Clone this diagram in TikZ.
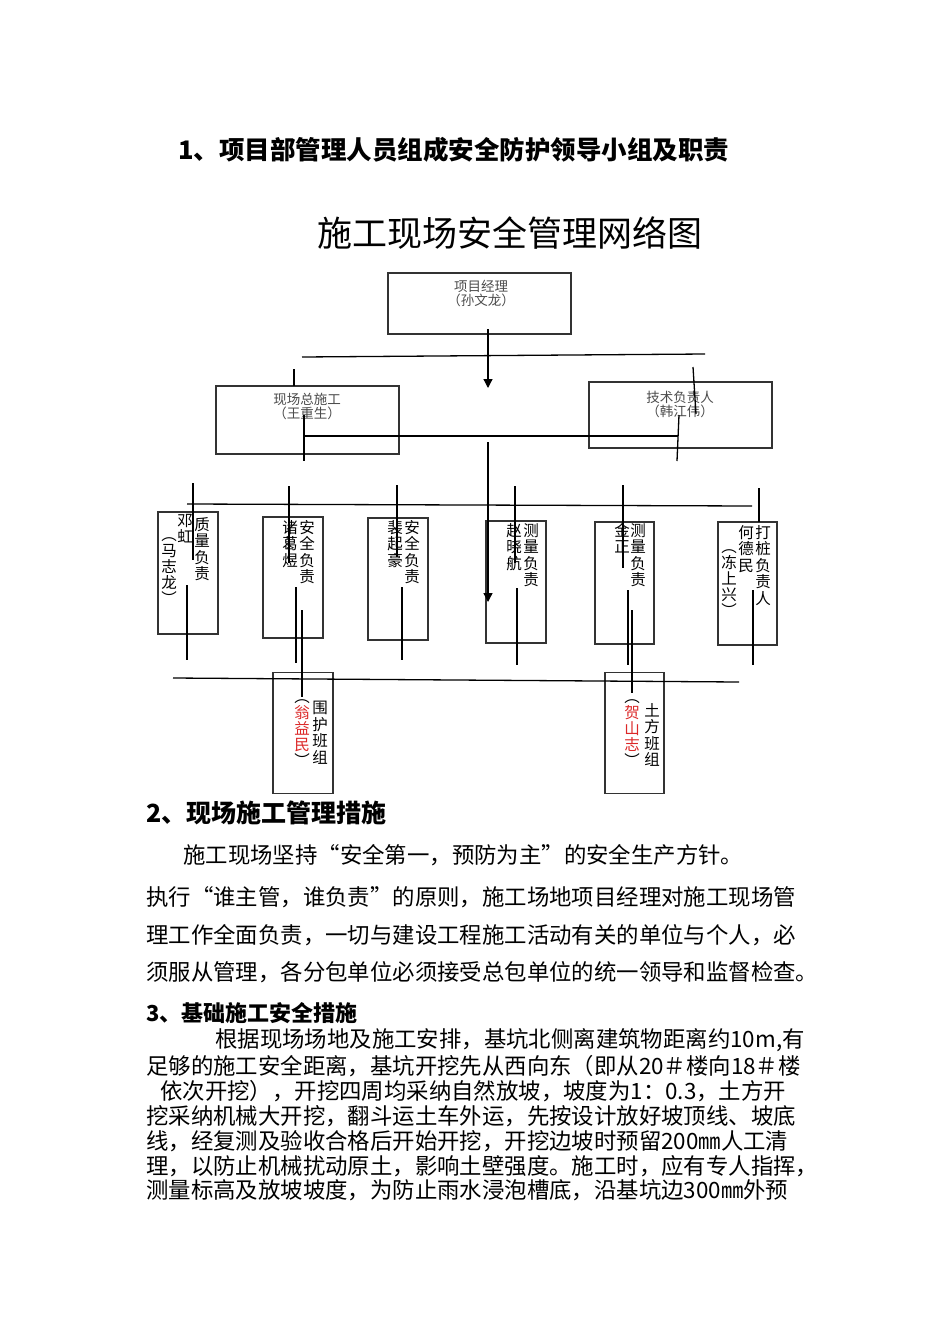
\documentclass[tikz,border=0pt]{standalone}
\usepackage{fontspec}
\setmainfont{Noto Sans CJK SC}
\usetikzlibrary{arrows.meta}
\definecolor{namered}{RGB}{220,40,40}

\begin{document}
\begin{tikzpicture}[
    x=1pt, y=-1pt,
    box/.style={rectangle, draw=black!80, line width=1.5pt, inner sep=0pt},
    tbox/.style={box, minimum width=183pt},
    vbox/.style={box, minimum width=60pt, minimum height=122pt},
    lbl/.style={align=center, inner sep=0pt, text=black!70, font=\fontsize{13.5}{13.5}\selectfont},
    vcol/.style={anchor=north, align=center, inner sep=0pt, font=\fontsize{15.5}{16.5}\selectfont},
    pcol/.style={vcol, font=\fontsize{15.5}{16}\selectfont},
    ln/.style={line width=1.3pt},
    arr/.style={ln, -{Triangle[width=9pt,length=9pt]}},
    txt/.style={anchor=west, inner sep=0pt},
    para/.style={txt, font=\fontsize{22.4}{22.4}\selectfont},
    parb/.style={txt, font=\fontsize{22.4}{22.4}\selectfont}
  ]
  \fill[white] (0,0) rectangle (950,1344);
  \useasboundingbox (0,0) rectangle (950,1344);

  \node[txt, font=\bfseries\fontsize{25.5}{25.5}\selectfont] (sec1) at (178,150) {1、项目部管理人员组成安全防护领导小组及职责};
  \node[inner sep=0pt, font=\fontsize{35}{35}\selectfont] (title) at (510,233) {施工现场安全管理网络图};

  \node[tbox, minimum height=61pt] (pm) at (479.5,303.5) {};
  \node[lbl] (pmt) at (481,293.5) {项目经理\\（孙文龙）};
  \node[tbox, minimum height=68pt] (zsg) at (307.5,420) {};
  \node[lbl] (zsgt) at (307,406.5) {现场总施工\\（王重生）};
  \node[tbox, minimum height=66pt] (jsf) at (680.5,415) {};
  \node[lbl] (jsft) at (680,404.5) {技术负责人\\（韩江伟）};

  \node[vbox] (zl) at (188,573) {};
  \node[vbox, minimum height=121pt] (aq) at (293,577.5) {};
  \node[vbox] (aqb) at (398,579) {};
  \node[vbox] (cl) at (516,582) {};
  \node[vbox, minimum width=59pt] (clb) at (624.5,583) {};
  \node[vbox, minimum width=59pt, minimum height=123pt] (dz) at (747.5,583.5) {};
  \node[vbox, minimum height=121pt] (wh) at (303,733) {};
  \node[vbox, minimum width=59pt, minimum height=121pt] (tf) at (634.5,733) {};

  \node[vcol] (zlt) at (202,517) {质\\量\\负\\责};
  \node[vcol] (zln) at (185,514) {邓\\虹};
  \node[pcol] (zlp) at (169,537) {︵\\马\\志\\龙\\︶};
  \node[vcol] (aqt) at (307,520) {安\\全\\负\\责};
  \node[vcol] (aqn) at (290,520) {诸\\葛\\煜};
  \node[vcol] (aqbt) at (412,520) {安\\全\\负\\责};
  \node[vcol] (aqbn) at (395,520) {裴\\起\\豪};
  \node[vcol] (clt) at (531,523) {测\\量\\负\\责};
  \node[vcol] (cln) at (514,523) {赵\\晓\\航};
  \node[vcol] (clbt) at (638,523) {测\\量\\负\\责};
  \node[vcol] (clbn) at (622,523) {金\\正};
  \node[vcol] (dzt) at (763,525) {打\\桩\\负\\责\\人};
  \node[vcol] (dzn) at (746,525) {何\\德\\民};
  \node[pcol] (dzp) at (729,549) {︵\\冻\\上\\兴\\︶};
  \node[vcol] (wht) at (320,701) {围\\护\\班\\组};
  \node[pcol] (whn) at (302,699) {︵\\\textcolor{namered}{翁}\\\textcolor{namered}{益}\\\textcolor{namered}{民}\\︶};
  \node[vcol] (tft) at (652,703) {土\\方\\班\\组};
  \node[pcol] (tfn) at (632,699) {︵\\\textcolor{namered}{贺}\\\textcolor{namered}{山}\\\textcolor{namered}{志}\\︶};

  \draw[ln] (302,357) -- (705,354);
  \draw[arr] (488,329) -- (488,388);
  \draw[ln] (294,369) -- (294,386);
  \draw[ln] (693,367) -- (696,414);
  \draw[ln] (304,415) -- (304,461);
  \draw[ln] (304,436) -- (678,436);
  \draw[ln] (679,415) -- (677,461);
  \draw[arr] (488,442) -- (488,602);

  \draw[ln] (187,504) -- (752,506);
  \draw[ln] (193,483) -- (193,560) (289,486) -- (289,563) (397,485) -- (397,557)
    (515,486) -- (515,563) (623,485) -- (623,568) (759,488) -- (759,522);
  \draw[ln] (187,585) -- (187,660) (296,587) -- (296,663) (402,587) -- (402,660)
    (517,588) -- (517,665) (628,590) -- (628,665) (753,590) -- (753,665);
  \draw[ln] (302,610) -- (302,697) (632,610) -- (632,693);
  \draw[ln] (173,678) -- (739,682);

  \node[txt, font=\bfseries\fontsize{25}{25}\selectfont] (sec2) at (146,813) {2、现场施工管理措施};
  \node[para] (p1) at (183,855) {施工现场坚持“安全第一，预防为主”的安全生产方针。};
  \node[para] (p2) at (146,897) {执行“谁主管，谁负责”的原则，施工场地项目经理对施工现场管};
  \node[para] (p3) at (146,935) {理工作全面负责，一切与建设工程施工活动有关的单位与个人，必};
  \node[para] (p4) at (146,972) {须服从管理，各分包单位必须接受总包单位的统一领导和监督检查。};

  \node[txt, font=\bfseries\fontsize{22}{22}\selectfont] (sec3) at (146,1013) {3、基础施工安全措施};
  \node[parb] (q1) at (215,1040) {根据现场场地及施工安排，基坑北侧离建筑物距离约10m,有};
  \node[parb] (q2) at (146,1066) {足够的施工安全距离，基坑开挖先从西向东（即从20＃楼向18＃楼};
  \node[parb] (q3) at (160,1091) {依次开挖），开挖四周均采纳自然放坡，坡度为1：0.3，土方开};
  \node[parb] (q4) at (146,1116) {挖采纳机械大开挖，翻斗运土车外运，先按设计放好坡顶线、坡底};
  \node[parb] (q5) at (146,1141) {线，经复测及验收合格后开始开挖，开挖边坡时预留200㎜人工清};
  \node[parb] (q6) at (146,1166) {理，以防止机械扰动原土，影响土壁强度。施工时，应有专人指挥，};
  \node[parb] (q7) at (146,1190) {测量标高及放坡坡度，为防止雨水浸泡槽底，沿基坑边300㎜外预};
\end{tikzpicture}
\end{document}
